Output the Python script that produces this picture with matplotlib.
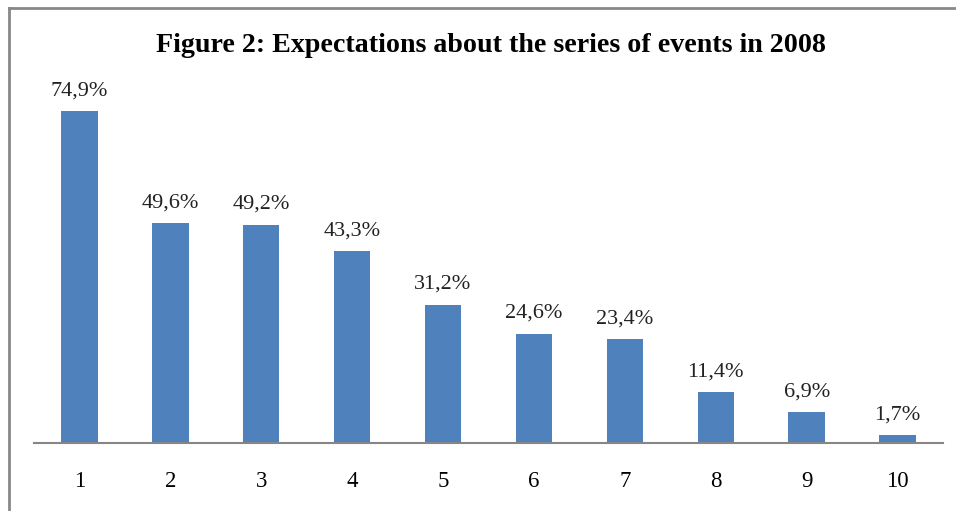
import matplotlib
matplotlib.use("Agg")
import matplotlib.pyplot as plt
from matplotlib.lines import Line2D

categories = ["1", "2", "3", "4", "5", "6", "7", "8", "9", "10"]
values = [74.9, 49.6, 49.2, 43.3, 31.2, 24.6, 23.4, 11.4, 6.9, 1.7]
labels = ["74,9%", "49,6%", "49,2%", "43,3%", "31,2%", "24,6%", "23,4%", "11,4%", "6,9%", "1,7%"]
title = "Figure 2: Expectations about the series of events in 2008"

W, H = 956, 511
fig = plt.figure(figsize=(W / 100, H / 100), dpi=100)
plt.rcParams['font.family'] = ['Liberation Serif', 'DejaVu Serif']

ax = fig.add_axes([34 / W, (H - 443) / H, 909 / W, (443 - 88.6) / H])
x = list(range(len(categories)))
bars = ax.bar(x, values, width=0.4, color="#4F81BD")
ax.set_xlim(-0.5, len(categories) - 0.5)
ax.set_ylim(0, 80)
ax.set_xticks(x)
ax.set_xticklabels(categories, fontsize=16.5)
ax.tick_params(axis='x', length=0, pad=20)
ax.set_yticks([])
for s in ["top", "right", "left"]:
    ax.spines[s].set_visible(False)
ax.spines["bottom"].set_color("#868686")
ax.spines["bottom"].set_linewidth(1.5)

for xi, v, lab in zip(x, values, labels):
    ax.annotate(lab, (xi, v), xytext=(0, 8), textcoords="offset points",
                ha="center", va="bottom", fontsize=16, color="#222222")

fig.text(491 / W, 1 - 46 / H, title, ha="center", va="center",
         fontsize=20.2, fontweight="bold")

# outer frame (top and left visible)
fig.add_artist(Line2D([9 / W, 9 / W], [0, 1 - 8 / H], transform=fig.transFigure,
                      color="#888888", linewidth=2))
fig.add_artist(Line2D([9 / W, 1], [1 - 8 / H, 1 - 8 / H], transform=fig.transFigure,
                      color="#888888", linewidth=2))

fig.savefig("out.png", dpi=100)
